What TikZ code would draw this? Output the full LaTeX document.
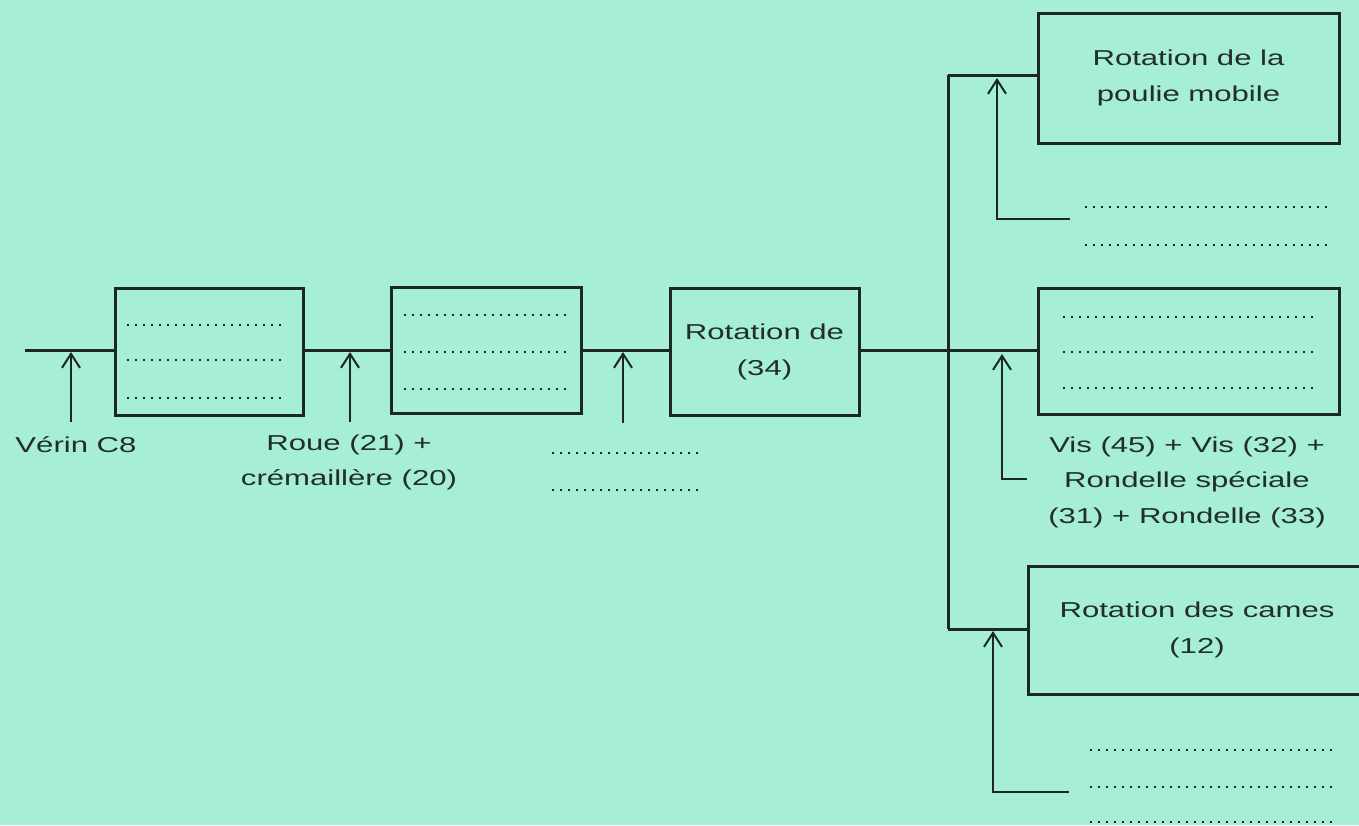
\documentclass[tikz,border=0pt]{standalone}
\usepackage{fontspec}
\setmainfont[FakeStretch=1.44]{Liberation Sans}
\usetikzlibrary{arrows.meta}
\definecolor{bg}{RGB}{166,239,212}
\definecolor{ink}{RGB}{28,40,34}
\definecolor{txt}{RGB}{34,46,40}
\tikzset{
  blk/.style={draw=ink, line width=3pt, rectangle, inner sep=0pt, align=center, text=txt,
    font=\fontsize{21.6}{36}\selectfont},
  wire/.style={draw=ink, line width=3pt},
  feed/.style={draw=ink, line width=2pt},
  feedarrow/.style={feed, -{Straight Barb[length=14pt,width=18pt,line width=2pt]}},
  lbl/.style={align=center, text=txt, inner sep=0pt, font=\fontsize{21.6}{35.5}\selectfont},
  dots/.style={draw=ink, line width=2pt, dash pattern=on 2pt off 6pt},
}
\begin{document}
\begin{tikzpicture}[x=1pt,y={(0pt,-1pt)}]
\fill[bg] (0,0) rectangle (1359,825);
\useasboundingbox (0,0) rectangle (1359,825);
\begin{scope}
\clip (0,0) rectangle (1359,825);
% boxes
\node[blk, minimum width=188pt, minimum height=127pt] (b1) at (209,351.5) {};
\node[blk, minimum width=190pt, minimum height=126pt] (b2) at (486,350) {};
\node[blk, minimum width=189pt, minimum height=127pt] (b3) at (764.5,351.5) {Rotation de\\(34)};
\node[blk, minimum width=301pt, minimum height=130pt] (b4) at (1188.5,78) {Rotation de la\\poulie mobile};
\node[blk, minimum width=301pt, minimum height=126pt] (b5) at (1188.5,351) {};
\node[blk, minimum width=338pt, minimum height=128pt] (b6) at (1197,630) {Rotation des cames\\(12)};
% main chain
\coordinate (start) at (25,350);
\coordinate (jt) at (948,75);
\coordinate (jm) at (948,350);
\coordinate (jb) at (948,629);
\draw[wire] (start) -- (start -| b1.west);
\draw[wire] (b1.east |- start) -- (b2.west |- start);
\draw[wire] (b2.east |- start) -- (b3.west |- start);
\draw[wire] (b3.east |- start) -- (b5.west |- start);
\draw[wire] (jt) -- (jb);
\draw[wire] (jt) -- (jt -| b4.west);
\draw[wire] (jb) -- (jb -| b6.west);
% feed arrows
\coordinate (f1) at (71,422);
\coordinate (f2) at (350,422);
\coordinate (f3) at (623,423);
\draw[feedarrow] (f1) -- ([yshift=-2pt]f1 |- start);
\draw[feedarrow] (f2) -- ([yshift=-2pt]f2 |- start);
\draw[feedarrow] (f3) -- ([yshift=-2pt]f3 |- start);
\coordinate (f4) at (1070,219);
\coordinate (f4c) at (997,219);
\draw[feedarrow] (f4) -- (f4c) -- ([yshift=-3pt]f4c |- jt);
\coordinate (f5) at (1027,479);
\coordinate (f5c) at (1002,479);
\draw[feedarrow] (f5) -- (f5c) -- ([yshift=-4pt]f5c |- jm);
\coordinate (f6) at (1069,792);
\coordinate (f6c) at (993,792);
\draw[feedarrow] (f6) -- (f6c) -- ([yshift=-2pt]f6c |- jb);
% labels
\node[lbl] (l1) at (76,445) {Vérin C8};
\node[lbl] (l2) at (349,462.5) {Roue (21) +\\crémaillère (20)};
\node[lbl] (l5) at (1187,482) {Vis (45) + Vis (32) +\\Rondelle spéciale\\(31) + Rondelle (33)};
% dotted placeholders
\foreach \y in {325,360,398} \draw[dots] (127,\y) -- (286,\y);
\foreach \y in {315,352,389} \draw[dots] (404,\y) -- (566,\y);
\foreach \y in {453,490} \draw[dots] (552,\y) -- (700,\y);
\foreach \y in {207,245} \draw[dots] (1085,\y) -- (1328,\y);
\foreach \y in {317,352,388} \draw[dots] (1063,\y) -- (1318,\y);
\foreach \y in {750,787,822} \draw[dots] (1090,\y) -- (1334,\y);
\end{scope}
\end{tikzpicture}
\end{document}
